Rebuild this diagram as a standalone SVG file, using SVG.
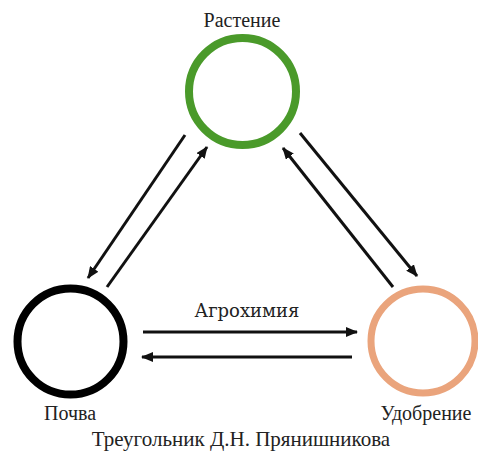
<svg xmlns="http://www.w3.org/2000/svg" width="478" height="452" viewBox="0 0 478 452">
<defs>
<marker id="ah" viewBox="0 0 12 10" refX="11" refY="5" markerWidth="12" markerHeight="10" markerUnits="userSpaceOnUse" orient="auto">
<path d="M0,0 L12,5 L0,10 Z" fill="#111"/>
</marker>
</defs>
<rect width="478" height="452" fill="#fff"/>
<g id="rastenie">
<circle cx="242.5" cy="91.5" r="53.5" fill="none" stroke="#4a9a2a" stroke-width="8"/>
<text x="242" y="27" font-family="Liberation Serif" font-size="20" fill="#222" text-anchor="middle">Растение</text>
</g>
<g id="pochva">
<circle cx="70.5" cy="341.5" r="53" fill="none" stroke="#000" stroke-width="8"/>
<text x="70" y="420" font-family="Times New Roman" font-size="20" fill="#222" text-anchor="middle">Почва</text>
</g>
<g id="udobrenie">
<circle cx="423" cy="341" r="52" fill="none" stroke="#eaa47c" stroke-width="7"/>
<text x="426" y="420" font-family="serif" font-size="20" fill="#222" text-anchor="middle">Удобрение</text>
</g>
<g id="connectors" stroke="#111" stroke-width="3" fill="none" marker-end="url(#ah)">
<line x1="185" y1="135" x2="88" y2="278"/>
<line x1="107" y1="287" x2="207" y2="147"/>
<line x1="300" y1="133" x2="417" y2="276"/>
<line x1="393" y1="287" x2="283" y2="148"/>
<line x1="143" y1="332" x2="357" y2="332"/>
<line x1="352" y1="357" x2="142" y2="357"/>
</g>
<text x="247" y="317" font-family="DejaVu Serif" font-size="18" fill="#222" text-anchor="middle">Агрохимия</text>
<text x="241" y="446" font-family="Liberation Serif, serif" font-size="21" fill="#222" text-anchor="middle">Треугольник Д.Н. Прянишникова</text>
</svg>
